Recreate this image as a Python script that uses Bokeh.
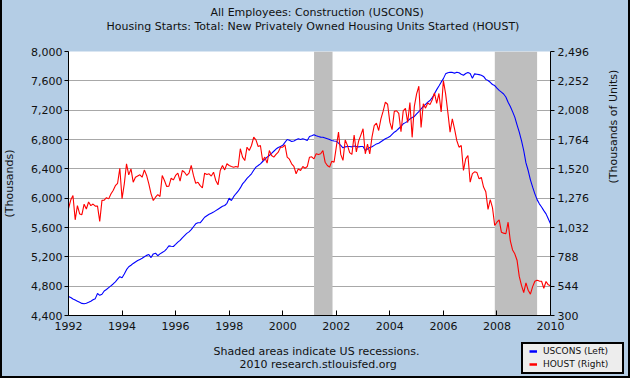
import math
from bokeh.plotting import figure
from bokeh.models import (Range1d, LinearAxis, FixedTicker, Legend, LegendItem, Title,
                          NumeralTickFormatter)
from bokeh.embed import file_html
from bokeh.resources import INLINE

# ---------------- data ----------------
start_year = 1992
x_ticks = [1992, 1994, 1996, 1998, 2000, 2002, 2004, 2006, 2008, 2010]
left_ticks = [4400, 4800, 5200, 5600, 6000, 6400, 6800, 7200, 7600, 8000]
right_ticks = [300, 544, 788, 1032, 1276, 1520, 1764, 2008, 2252, 2496]

# All Employees: Construction (thousands), monthly Jan 1992 .. Jan 2010
uscons = [
    4660, 4645, 4625, 4610, 4595, 4580, 4565, 4560, 4568, 4580, 4595, 4615,
    4630, 4700, 4675, 4690, 4735, 4755, 4780, 4805, 4830, 4860, 4895, 4930,
    4915, 4965, 5025, 5065, 5085, 5110, 5130, 5150, 5165, 5180, 5200, 5220,
    5232, 5190, 5240, 5250, 5215, 5240, 5260, 5278, 5310, 5350, 5345, 5341,
    5370, 5400, 5425, 5460, 5490, 5520, 5540, 5570, 5610, 5650, 5665, 5664,
    5700, 5740, 5760, 5780, 5795, 5810, 5830, 5850, 5870, 5890, 5900, 5930,
    6000, 5968, 6020, 6060, 6095, 6140, 6195, 6230, 6270, 6300, 6332, 6380,
    6423, 6445, 6468, 6500, 6530, 6560, 6582, 6610, 6640, 6670, 6690, 6705,
    6720, 6760, 6800, 6790, 6773, 6780, 6795, 6809, 6800, 6810, 6800, 6786,
    6841, 6850, 6864, 6850, 6840, 6832, 6830, 6820, 6810, 6800, 6786, 6780,
    6777, 6750, 6720, 6686, 6700, 6705, 6705, 6700, 6710, 6705, 6700, 6705,
    6705, 6650, 6670, 6690, 6700, 6720, 6740, 6750, 6770, 6790, 6810, 6823,
    6840, 6870, 6900, 6920, 6950, 6980, 7014, 7030, 7050, 7080, 7100, 7114,
    7150, 7180, 7218, 7250, 7280, 7310, 7332, 7370, 7423, 7480, 7530, 7582,
    7630, 7695, 7710, 7718, 7715, 7705, 7718, 7710, 7690, 7677, 7700, 7714,
    7700, 7636, 7695, 7690, 7685, 7677, 7660, 7620, 7604, 7580, 7550, 7536,
    7500, 7470, 7445, 7420, 7380, 7309, 7250, 7180, 7105, 7000, 6900, 6786,
    6650, 6480, 6377, 6250, 6150, 6059, 5980, 5923, 5880, 5830, 5786, 5720,
    5650,
]

# Housing starts (thousands of units), monthly Jan 1992 .. Jan 2010
houst = [
    1190, 1260, 1298, 1096, 1214, 1145, 1139, 1226, 1186, 1244, 1214, 1227,
    1210, 1210, 1083, 1258, 1260, 1280, 1270, 1310, 1340, 1380, 1400, 1525,
    1272, 1395, 1562, 1470, 1520, 1409, 1450, 1460, 1470, 1450, 1511, 1465,
    1395, 1312, 1257, 1284, 1306, 1290, 1465, 1423, 1373, 1376, 1442, 1428,
    1465, 1484, 1417, 1506, 1492, 1465, 1484, 1548, 1465, 1400, 1409, 1380,
    1362, 1484, 1473, 1479, 1460, 1492, 1423, 1387, 1506, 1548, 1511, 1562,
    1548, 1540, 1534, 1540, 1534, 1687, 1617, 1589, 1700, 1672, 1714, 1783,
    1761, 1706, 1714, 1589, 1617, 1567, 1672, 1631, 1617, 1640, 1659, 1700,
    1700, 1720, 1617, 1600, 1562, 1540, 1479, 1520, 1506, 1539, 1525, 1539,
    1617, 1620, 1603, 1645, 1640, 1645, 1672, 1575, 1548, 1534, 1584, 1575,
    1700, 1825, 1640, 1590, 1760, 1715, 1655, 1640, 1800, 1660, 1750, 1800,
    1853, 1645, 1726, 1645, 1783, 1880, 1900, 1839, 1936, 2000, 2074, 2057,
    1908, 1846, 1998, 2003, 1981, 1828, 2002, 2024, 1905, 2072, 1782, 2042,
    2144, 2207, 1864, 2061, 2025, 2068, 2054, 2095, 2151, 2065, 2147, 1994,
    2255, 2144, 1990, 1825, 1936, 1853, 1756, 1700, 1714, 1506, 1603, 1631,
    1409, 1480, 1495, 1490, 1437, 1448, 1368, 1330, 1183, 1264, 1197, 1049,
    1076, 1096, 993, 985, 980, 1076, 920, 845, 813, 760, 625, 550,
    490, 572, 510, 478, 540, 585, 594, 586, 585, 527, 583, 555,
    548,
]

# US recessions (decimal years)
rec_start = [2001.17, 2007.92]
rec_end = [2001.86, 2009.50]

series_names = ["USCONS (Left)", "HOUST (Right)"]
series_colors = ["#0000FF", "#FF0000"]

months = [start_year + i / 12 for i in range(len(uscons))]

# ---------------- main figure ----------------
FONT = "DejaVu Sans"
BG = "#B4CDE5"
TXT = "#111111"

p = figure(width=630, height=378, frame_width=482, frame_height=264,
           output_backend="svg", toolbar_location=None,
           x_range=Range1d(x_ticks[0], x_ticks[-1]),
           y_range=Range1d(left_ticks[0], left_ticks[-1]),
           min_border_left=67, min_border_right=81, min_border_top=51, min_border_bottom=63,
           border_fill_color=BG, border_fill_alpha=0.0, background_fill_color="white",
           title=None)
p.outline_line_color = None
p.extra_y_ranges = {"right": Range1d(right_ticks[0], right_ticks[-1])}
# page frame: black left/right/bottom edges painted behind the transparent border area
p.styles = {
    "position": "fixed", "top": "0px", "left": "0px",
    "background": ("linear-gradient(to right, #000 0px, #000 2px, transparent 2px, "
                   "transparent 628px, #000 628px, #000 630px), "
                   "linear-gradient(to bottom, %s 0px, %s 376px, #000 376px, #000 378px, "
                   "%s 378px)" % (BG, BG, BG)),
}

# recessions
p.quad(left=rec_start, right=rec_end, bottom=left_ticks[0], top=left_ticks[-1],
       fill_color="#BEBEBE", line_color=None)

p.line(months, uscons, line_color=series_colors[0], line_width=1.1)
p.line(months, houst, line_color=series_colors[1], line_width=1.1, y_range_name="right")

# grid
p.xgrid.grid_line_color = None
p.ygrid.ticker = FixedTicker(ticks=left_ticks)
p.ygrid.grid_line_color = "#A8A8A8"
p.ygrid.grid_line_width = 1


def style_axis(ax):
    ax.axis_line_color = "black"
    ax.major_tick_line_color = "black"
    ax.minor_tick_line_color = None
    ax.major_label_text_font = FONT
    ax.major_label_text_font_size = "11px"
    ax.major_label_text_color = TXT
    ax.axis_label_text_font = FONT
    ax.axis_label_text_font_size = "11px"
    ax.axis_label_text_font_style = "normal"
    ax.axis_label_text_color = TXT


# bottom axis
xa = p.xaxis[0]
xa.ticker = FixedTicker(ticks=x_ticks)
xa.formatter = NumeralTickFormatter(format="0")
style_axis(xa)
xa.major_tick_in = 5
xa.major_tick_out = 0
xa.major_label_standoff = 6

# left axis
ya = p.yaxis[0]
ya.ticker = FixedTicker(ticks=left_ticks)
ya.formatter = NumeralTickFormatter(format="0,0")
style_axis(ya)
ya.major_tick_in = 0
ya.major_tick_out = 4
ya.major_label_standoff = 2
ya.axis_label = "(Thousands)"
ya.axis_label_standoff = 12

# right axis
ra = LinearAxis(y_range_name="right", ticker=FixedTicker(ticks=right_ticks),
                formatter=NumeralTickFormatter(format="0,0"))
style_axis(ra)
ra.major_tick_in = 0
ra.major_tick_out = 4
ra.major_label_standoff = 3
ra.axis_label = "(Thousands of Units)"
ra.axis_label_standoff = 22
try:
    ra.axis_label_orientation = math.pi / 2
except Exception:
    pass
p.add_layout(ra, "right")


# ---------------- titles / footer (side panels, stacked outward) ----------------
def make_title(text, offset, standoff, size="11px"):
    return Title(text=text, align="left", offset=offset, standoff=standoff,
                 vertical_align="bottom", text_font=FONT, text_font_size=size,
                 text_font_style="normal", text_color=TXT)


p.add_layout(make_title(" ", 0, 17, size="1px"), "above")
p.add_layout(make_title("Housing Starts: Total: New Privately Owned Housing Units Started (HOUST)",
                        38, -2), "above")
p.add_layout(make_title("All Employees: Construction (USCONS)", 142, 0), "above")

p.add_layout(make_title(" ", 0, 7, size="1px"), "below")
p.add_layout(make_title("Shaded areas indicate US recessions.", 145, 0), "below")
p.add_layout(make_title("2010 research.stlouisfed.org", 171, -3), "below")

# ---------------- legend box (small figure laid over the bottom-right corner) ----------------
leg = figure(width=103, height=32, output_backend="svg", toolbar_location=None,
             x_range=Range1d(0, 1), y_range=Range1d(0, 1),
             x_axis_location=None, y_axis_location=None, min_border=0,
             background_fill_color="#EDEDED", border_fill_color="#EDEDED", title=None)
leg.grid.visible = False
leg.outline_line_color = "black"
leg.outline_line_width = 3
leg.styles = {"position": "fixed", "left": "521px", "top": "342px"}

# the same series, out of this small box's view: only their legend glyphs show
g1 = leg.line(months, uscons, line_color=series_colors[0], line_width=2.5)
g2 = leg.line(months, houst, line_color=series_colors[1], line_width=2.5)

legend = Legend(items=[LegendItem(label=series_names[0], renderers=[g1]),
                       LegendItem(label=series_names[1], renderers=[g2])],
                location=(8, 4), orientation="vertical", padding=1, spacing=1,
                label_height=12, glyph_height=12, glyph_width=8, label_standoff=6,
                label_text_font=FONT, label_text_font_size="9px",
                label_text_color=TXT, border_line_color=None,
                background_fill_alpha=0.0, margin=0)
leg.add_layout(legend)

open("out.html", "w").write(file_html([p, leg], INLINE))
